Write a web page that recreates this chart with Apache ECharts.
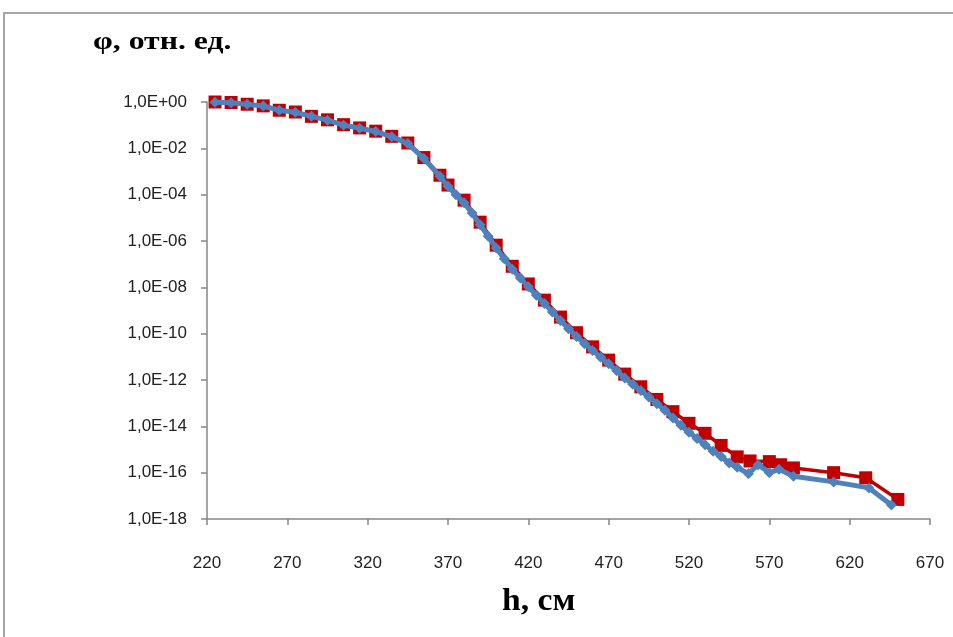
<!DOCTYPE html>
<html>
<head>
<meta charset="utf-8">
<script src="https://cdn.jsdelivr.net/npm/echarts@6/dist/echarts.min.js"></script>
<style>
  html, body { margin: 0; padding: 0; background: #fff; }
  #chart { width: 953px; height: 637px; }
</style>
</head>
<body>
<div id="chart"></div>
<script>
// x ticks and y decades
const xTicks = [220, 270, 320, 370, 420, 470, 520, 570, 620, 670];

// red series (squares)
const redH = [225, 235, 245, 255, 265, 275, 285, 295, 305, 315, 325, 335, 345, 355, 365, 370, 380, 390,
  400, 410, 420, 430, 440, 450, 460, 470, 480, 490, 500, 510, 520, 530, 540, 550, 558, 570, 577, 585,
  610, 630, 650];
const redPhi = [1.0, 0.95, 0.8, 0.68, 0.44, 0.37, 0.24, 0.17, 0.105, 0.076, 0.055, 0.033, 0.017, 4.0e-3,
  6.9e-4, 2.6e-4, 5.8e-5, 6.5e-6, 6.6e-7, 8.1e-8, 1.4e-8, 2.8e-9, 5.2e-10, 1.1e-10, 2.7e-11, 7.2e-12,
  1.8e-12, 5.1e-13, 1.45e-13, 4.3e-14, 1.35e-14, 5.0e-15, 1.5e-15, 4.8e-16, 3.2e-16, 3.0e-16, 2.2e-16,
  1.6e-16, 1.0e-16, 6.0e-17, 7.0e-18];

// blue series (diamonds)
const blueH = [225, 235, 245, 255, 265, 275, 285, 295, 305, 315, 325, 335, 345, 355, 365, 370, 375, 380,
  385, 390, 395, 400, 405, 410, 415, 420, 425, 430, 435, 440, 445, 450, 455, 460, 465, 470, 475, 480,
  485, 490, 495, 500, 505, 510, 515, 520, 525, 530, 535, 540, 545, 550, 557, 563, 570, 576, 585, 610,
  632, 646];
const bluePhi = [0.98, 0.93, 0.79, 0.67, 0.44, 0.36, 0.24, 0.165, 0.1, 0.074, 0.053, 0.032, 0.016, 3.6e-3,
  6.2e-4, 2.3e-4, 1.0e-4, 4.5e-5, 1.6e-5, 5.0e-6, 1.6e-6, 5.0e-7, 1.7e-7, 6.0e-8, 2.5e-8, 1.05e-8,
  4.6e-9, 2.0e-9, 8.7e-10, 3.7e-10, 1.65e-10, 7.6e-11, 3.7e-11, 1.9e-11, 9.5e-12, 5.0e-12, 2.5e-12,
  1.23e-12, 6.6e-13, 3.5e-13, 1.86e-13, 9.5e-14, 5.0e-14, 2.3e-14, 1.1e-14, 5.5e-15, 3.0e-15, 1.6e-15,
  8.5e-16, 5.0e-16, 2.6e-16, 1.7e-16, 9.0e-17, 2.2e-16, 1.0e-16, 1.4e-16, 7.0e-17, 4.0e-17, 2.2e-17,
  4.0e-18];

function pairs(xs, ys) {
  return xs.map((x, i) => [x, ys[i]]);
}

function sciLabel(v) {
  const e = Math.round(Math.log10(v));
  const a = Math.abs(e);
  return '1,0E' + (e < 0 ? '-' : '+') + (a < 10 ? '0' + a : '' + a);
}

const chart = echarts.init(document.getElementById('chart'));

const axisColor = '#868686';

chart.setOption({
  animation: false,
  backgroundColor: '#fff',
  graphic: [
    {
      type: 'rect',
      shape: { x: 4, y: 13, width: 960, height: 640 },
      style: { fill: 'none', stroke: '#a6a6a6', lineWidth: 2 },
      silent: true
    },
    {
      type: 'text',
      x: 93,
      y: 29,
      scaleX: 1.22,
      style: {
        text: 'φ, отн. ед.',
        font: 'bold 26px "Liberation Serif"',
        fill: '#000'
      }
    },
    {
      type: 'text',
      x: 502,
      y: 586,
      scaleX: 1.05,
      style: {
        text: 'h, см',
        font: 'bold 32px "Liberation Serif"',
        fill: '#000'
      }
    }
  ],
  grid: {
    left: 207,
    right: 23,
    top: 102,
    bottom: 118
  },
  xAxis: {
    type: 'value',
    min: 220,
    max: 670,
    interval: 50,
    axisLine: { show: true, lineStyle: { color: axisColor, width: 1.5 } },
    axisTick: { show: true, length: 6, lineStyle: { color: axisColor, width: 1.5 } },
    splitLine: { show: false },
    axisLabel: {
      margin: 36,
      color: '#222',
      fontFamily: 'Liberation Sans',
      fontSize: 17,
      formatter: (v) => (xTicks.includes(v) ? String(v) : '')
    }
  },
  yAxis: {
    type: 'log',
    logBase: 10,
    min: 1e-18,
    max: 1,
    interval: 2,
    axisLine: { show: true, lineStyle: { color: axisColor, width: 1.5 } },
    axisTick: { show: true, length: 6, lineStyle: { color: axisColor, width: 1.5 } },
    splitLine: { show: false },
    minorTick: { show: false },
    axisLabel: {
      margin: 20,
      color: '#222',
      fontFamily: 'Liberation Sans',
      fontSize: 17,
      formatter: sciLabel
    }
  },
  series: [
    {
      name: 'red',
      type: 'line',
      data: pairs(redH, redPhi),
      symbol: 'rect',
      symbolSize: 13,
      showAllSymbol: true,
      lineStyle: { color: '#C00000', width: 3.5 },
      itemStyle: { color: '#C00000' },
      z: 2
    },
    {
      name: 'blue',
      type: 'line',
      data: pairs(blueH, bluePhi),
      symbol: 'diamond',
      symbolSize: 11,
      showAllSymbol: true,
      lineStyle: { color: '#4F81BD', width: 5 },
      itemStyle: { color: '#4F81BD' },
      z: 3
    }
  ]
});
</script>
</body>
</html>
